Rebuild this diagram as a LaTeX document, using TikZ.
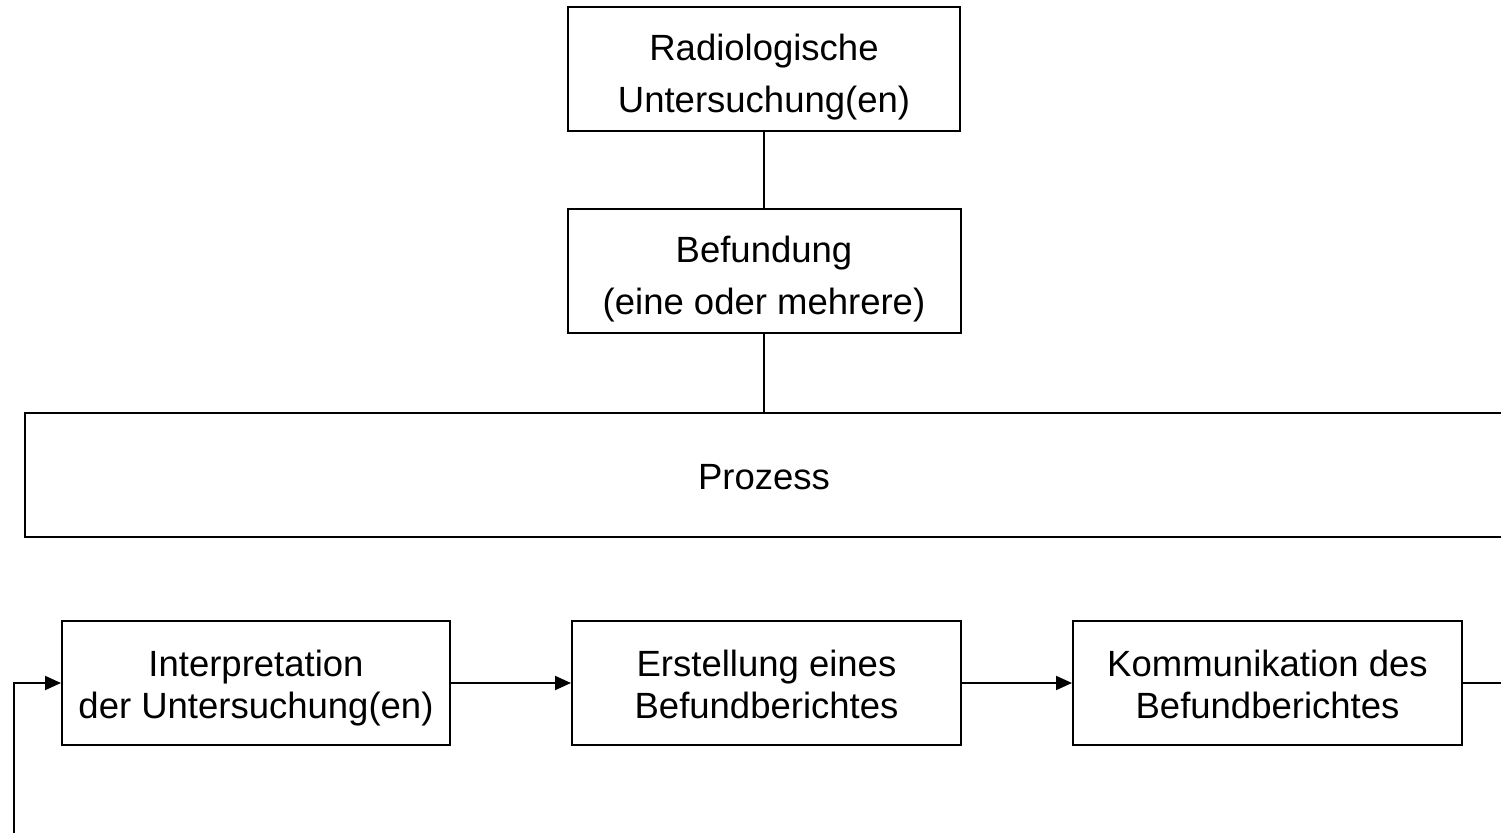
\documentclass[tikz,border=0pt]{standalone}
\usepackage{fontspec}
\setmainfont{Liberation Sans}
\usetikzlibrary{arrows.meta}
\begin{document}
\begin{tikzpicture}[x=0.5pt,y=-0.5pt,
  box/.style={draw=black, line width=1pt, fill=white, inner sep=0pt, minimum height=62pt},
  toptxt/.style={align=center, inner sep=0pt, font=\fontsize{18.25}{26}\selectfont},
  bottxt/.style={align=center, inner sep=0pt, font=\fontsize{18.25}{21}\selectfont},
  conn/.style={draw=black, line width=1pt},
  arr/.style={conn, -{Triangle[length=8pt,width=7pt]}}]
\useasboundingbox (0,0) rectangle (1501,833);
\node[box, minimum width=196pt,
  label={[toptxt, yshift=-4pt]center:Radiologische\\Untersuchung(en)}] (rad) at (764,69.5) {};
\node[box, minimum width=196.5pt,
  label={[toptxt, yshift=-4pt]center:Befundung\\(eine oder mehrere)}] (bef) at (764,271.5) {};
\node[box, minimum width=739pt,
  label={[toptxt, yshift=-1pt]center:Prozess}] (proz) at (764,475.5) {};
\node[box, minimum width=194pt,
  label={[bottxt, yshift=-2.75pt]center:Interpretation\\der Untersuchung(en)}] (interp) at (256,683) {};
\node[box, minimum width=194.5pt,
  label={[bottxt, yshift=-0.5pt]center:Erstellung eines\\Befundberichtes}] (erst) at (766.5,683) {};
\node[box, minimum width=194.5pt,
  label={[bottxt, yshift=-0.5pt]center:Kommunikation des\\Befundberichtes}] (komm) at (1267.5,683) {};
\coordinate (rightend) at (1515,683);
\coordinate (leftbottom) at (14,845);
\coordinate (leftcorner) at (14,683);
\draw[conn] (rad.south) -- (bef.north);
\draw[conn] (bef.south) -- (bef.south |- proz.north);
\draw[arr] (interp.east) -- (erst.west);
\draw[arr] (erst.east) -- (komm.west);
\draw[conn] (komm.east) -- (rightend);
\draw[arr] (leftbottom) -- (leftcorner) -- (interp.west);
\end{tikzpicture}
\end{document}
